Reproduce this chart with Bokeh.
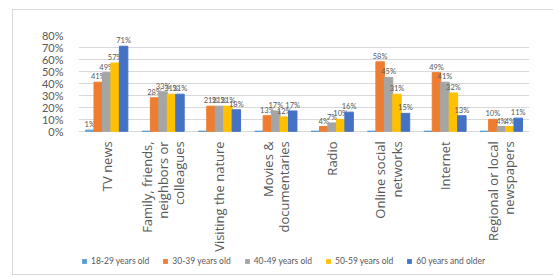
import math
from bokeh.plotting import figure
from bokeh.models import (ColumnDataSource, Legend, LegendItem, NumeralTickFormatter,
                          FixedTicker, Range1d)
from bokeh.transform import dodge
from bokeh.core.properties import value
from bokeh.embed import file_html
from bokeh.resources import INLINE

categories = ["TV news", "Family, friends,\nneighbors or\ncolleagues", "Visiting the nature",
              "Movies &\ndocumentaries", "Radio", "Online social\nnetworks", "Internet",
              "Regional or local\nnewspapers"]
series_names = ["18-29 years old", "30-39 years old", "40-49 years old", "50-59 years old", "60 years and older"]
s18_29 = [1, 0, 0, 0, 0, 0, 0, 0]
s30_39 = [41, 28, 21, 13, 4, 58, 49, 10]
s40_49 = [49, 33, 21, 17, 7, 45, 41, 4]
s50_59 = [57, 31, 21, 12, 10, 31, 32, 4]
s60_plus = [71, 31, 18, 17, 16, 15, 13, 11]
y_ticks = [0, 10, 20, 30, 40, 50, 60, 70, 80]

colors = ["#5B9BD5", "#ED7D31", "#A5A5A5", "#FFC000", "#4472C4"]
all_series = [s18_29, s30_39, s40_49, s50_59, s60_plus]

FONT = "Lato"
GRAY = "#595959"

# layout (pixels)
W, H = 541, 266
TOP, BOTTOM, LEFT, RIGHT = 25, 9, 65, 25
PLOT_PX_0_80 = 95  # pixels between 0% and 80%
frame_h = H - 2 - TOP - BOTTOM
y_top = 0.8
y_bottom = y_top - frame_h * 0.8 / PLOT_PX_0_80

p = figure(x_range=categories, y_range=Range1d(y_bottom, y_top), width=W, height=H,
           output_backend="svg", toolbar_location=None,
           min_border_left=LEFT, min_border_right=RIGHT, min_border_top=TOP,
           min_border_bottom=BOTTOM)
p.margin = (9, 0, 0, 12)
p.styles = {"border-left": "1px solid #d9d9d9", "border-top": "1px solid #d9d9d9",
            "border-bottom": "1px solid #d9d9d9"}
p.outline_line_color = None
p.background_fill_color = "white"

offsets = [-0.3, -0.15, 0.0, 0.15, 0.3]
bw = 0.15
items = []
for name, vals, col, off in zip(series_names, all_series, colors, offsets):
    src = ColumnDataSource(dict(cat=categories, v=[x / 100 for x in vals],
                                lab=[f"{x}%" if x > 0 else "" for x in vals]))
    p.vbar(x=dodge("cat", off, range=p.x_range), top="v", width=bw, source=src,
           fill_color=col, line_color=col)
    p.text(x=dodge("cat", off, range=p.x_range), y="v", text="lab", source=src,
           text_font=value(FONT), text_font_size="7.5px", text_color=GRAY,
           text_align="center", text_baseline="bottom", y_offset=-1)
    # zero-size square markers on the bar tops: invisible in the plot, used as legend keys
    key = p.scatter(x=dodge("cat", off, range=p.x_range), y="v", source=src,
                    marker="square", size=0, fill_color=col, line_color=None)
    items.append(LegendItem(label=name, renderers=[key]))

# category labels (rotated), hung below the 0% floor
lab_src = ColumnDataSource(dict(cat=categories, y=[0] * len(categories)))
p.text(x="cat", y="y", text="cat", source=lab_src, angle=math.pi / 2,
       text_font=value("Open Sans"), text_font_size="13px", text_color=GRAY,
       text_align="right", text_baseline="middle", text_line_height=0.9, y_offset=10)

p.xaxis.visible = False
p.yaxis.ticker = FixedTicker(ticks=[t / 100 for t in y_ticks])
p.yaxis.formatter = NumeralTickFormatter(format="0%")
p.yaxis.axis_line_color = None
p.yaxis.major_tick_line_color = None
p.yaxis.minor_tick_line_color = None
p.yaxis.major_label_text_font = FONT
p.yaxis.major_label_text_font_size = "11px"
p.yaxis.major_label_text_color = GRAY
p.yaxis.major_label_standoff = 9

p.xgrid.grid_line_color = None
p.ygrid.grid_line_color = "#d9d9d9"

legend = Legend(items=items, orientation="horizontal", location="bottom_left",
                label_text_font=FONT, label_text_font_size="8.5px", label_text_color=GRAY,
                glyph_width=12, glyph_height=12, label_height=10, label_standoff=1,
                spacing=10, padding=0, margin=0, border_line_color=None,
                background_fill_alpha=0)
p.add_layout(legend, "center")

open("out.html", "w").write(file_html(p, INLINE))
